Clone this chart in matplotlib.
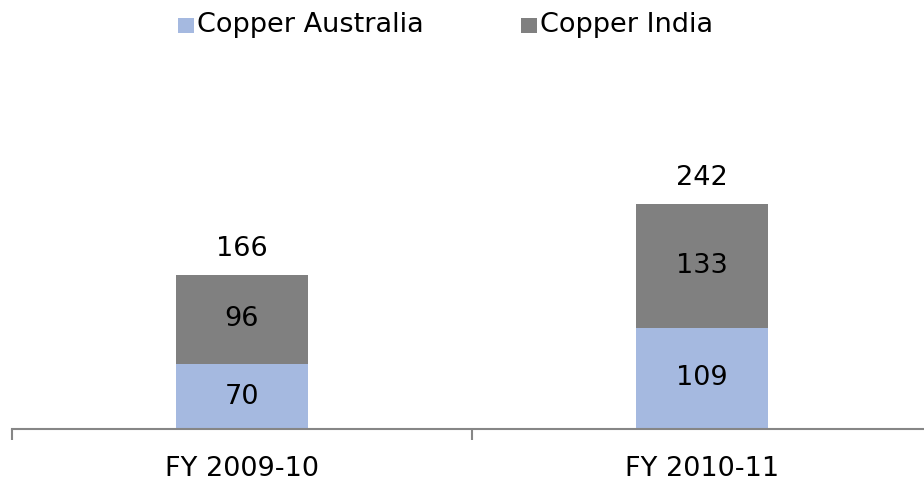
import matplotlib
matplotlib.use("Agg")
import matplotlib.pyplot as plt
from matplotlib.patches import Rectangle

categories = ["FY 2009-10", "FY 2010-11"]
australia = [70, 109]
india = [96, 133]
totals = [166, 242]
series_names = ["Copper Australia", "Copper India"]

c_aus = "#A5B9E0"
c_ind = "#808080"
axis_col = "#868686"

plt.rcParams["font.family"] = ["DejaVu Sans"]
fs = 19.5

W, H = 924, 483
fig = plt.figure(figsize=(W / 100, H / 100), dpi=100)

# axes: bottom line at y=429px, x range maps -0.5..1.5 onto 12..932 px
ymax = 300
px_per_unit = 0.928
ax_h = ymax * px_per_unit
ax = fig.add_axes([12 / W, (H - 429) / H, 920 / W, ax_h / H])

x = list(range(len(categories)))
bw = 0.285
ax.bar(x, australia, width=bw, color=c_aus)
ax.bar(x, india, width=bw, bottom=australia, color=c_ind)

for i in x:
    ax.text(i, australia[i] / 2, str(australia[i]), ha="center", va="center", fontsize=fs)
    ax.text(i, australia[i] + india[i] / 2, str(india[i]), ha="center", va="center", fontsize=fs)
    ax.text(i, totals[i] + 28, str(totals[i]), ha="center", va="center", fontsize=fs)

ax.set_xlim(-0.5, 1.5)
ax.set_ylim(0, ymax)
for s in ["top", "right", "left"]:
    ax.spines[s].set_visible(False)
ax.spines["bottom"].set_color(axis_col)
ax.spines["bottom"].set_linewidth(1.5)
ax.set_yticks([])
ax.set_xticks([-0.5, 0.5, 1.5])
ax.set_xticklabels([])
ax.tick_params(axis="x", length=8, width=1.5, color=axis_col)
for i, c in enumerate(categories):
    ax.text(i, -43.5, c, ha="center", va="center", fontsize=fs)

# legend drawn in figure pixels: square marker followed by its label
legend_items = [(178, c_aus), (521, c_ind)]
for (x0, col), name in zip(legend_items, series_names):
    fig.patches.append(Rectangle((x0 / W, 1 - 33 / H), 16 / W, 15 / H,
                                 transform=fig.transFigure, facecolor=col,
                                 edgecolor="none"))
    fig.text((x0 + 19) / W, 1 - 25 / H, name, ha="left", va="center", fontsize=fs)

fig.savefig("out.png", dpi=100)
